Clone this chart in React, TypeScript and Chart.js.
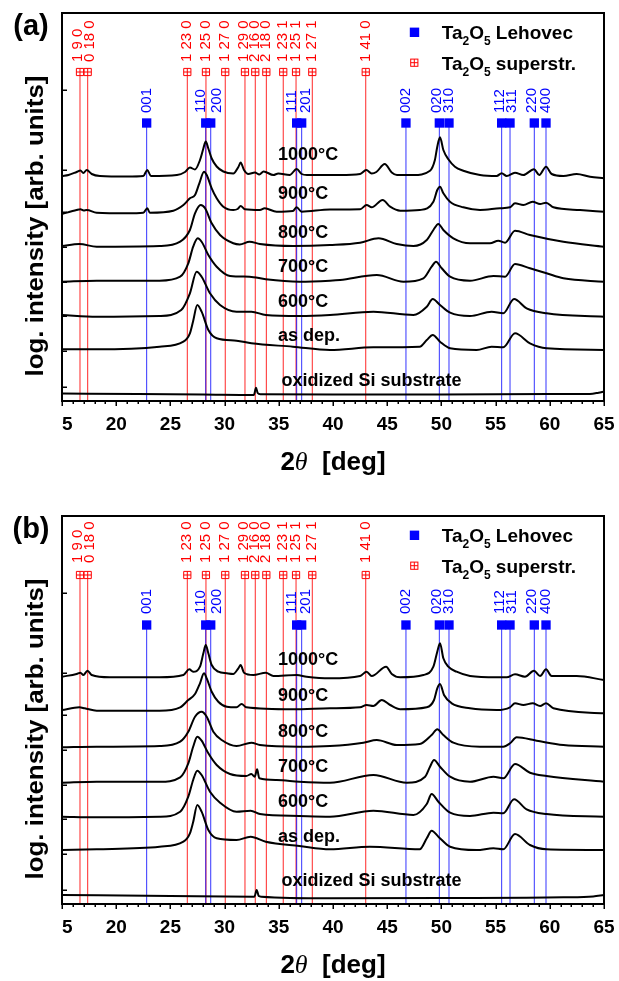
import React, { useEffect, useRef } from "react";
import { Chart, registerables } from "chart.js";
Chart.register(...registerables);

type Pt = [number, number];

// ---------- data (2θ in deg, log. intensity + stacking offset, arb. units) ----------
const A_1000: Pt[] = [[15.0,225],[15.6,226],[16.35,229],[16.7,230.5],[16.97,228],[17.28,231],[17.74,227],[18.5,225],[21.0,224.5],[22.5,225],[22.87,231],[23.2,225],[25.6,226],[26.35,229],[26.8,233.5],[27.27,231.5],[27.73,241],[28.04,252.5],[28.26,259.5],[28.5,252.5],[28.81,242.5],[29.27,234.5],[29.88,229.5],[30.8,227.5],[31.27,234],[31.48,238.5],[31.79,231],[32.19,227],[32.8,228.5],[33.2,226.5],[33.6,229.5],[34.5,226],[34.95,227.5],[36.0,226],[36.65,232],[37.11,227],[37.6,226],[40.65,226],[42.5,227],[43.07,231],[43.57,227.5],[44.0,229],[44.77,237],[45.42,228.5],[45.9,226],[47.4,226],[48.95,230.3],[49.4,241],[49.62,254.3],[49.87,263.7],[50.18,251],[50.64,241.7],[51.25,234.3],[52.02,230.3],[53.56,226],[55.1,225],[55.56,227.7],[56.02,225],[56.79,228.3],[57.56,226],[58.54,231.7],[59.03,226],[59.65,234.3],[60.17,227],[61.25,225],[62.48,227],[63.71,224.3],[65.0,222.7]];
const A_900: Pt[] = [[15.0,187],[16.35,191],[16.7,191.7],[17.0,190.5],[17.28,191],[18.2,188.3],[21.0,187.7],[22.5,188.3],[22.87,192.7],[23.1,188.3],[25.27,190.3],[26.2,196],[26.8,202.7],[27.27,206],[27.67,217.7],[28.1,229.3],[28.35,226],[28.81,212.7],[29.27,202.7],[29.88,194.3],[30.8,191],[31.2,192],[31.48,195],[31.88,191.7],[33.26,191],[33.7,192.7],[34.8,189.3],[36.3,190],[36.65,193.7],[37.1,189.3],[39.72,191.5],[42.5,191.7],[43.1,196],[43.57,193.7],[44.58,201],[45.27,194.3],[46.2,190.3],[48.0,191],[49.26,199.3],[49.62,211],[49.87,214.3],[50.18,207.7],[50.79,199.3],[52.02,193.7],[53.56,191],[55.4,192.7],[56.33,193.7],[56.79,197.7],[57.56,196],[58.42,199.3],[59.1,197],[59.65,198.3],[60.33,193.7],[62.79,191],[65.0,189.3]];
const A_800: Pt[] = [[15.0,155],[16.6,157],[18.2,154.3],[24.0,155],[25.9,159.3],[26.8,171],[27.27,187.7],[27.8,196],[28.2,192.7],[28.81,177.7],[29.58,166],[30.8,157.7],[31.4,156.5],[32.3,159.3],[33.26,157],[36.34,155],[39.72,156],[42.5,158.3],[44.2,162.7],[45.88,157],[47.42,155],[48.65,161],[49.26,171],[49.72,177],[50.18,171],[51.1,162.7],[52.64,157.7],[54.48,157.7],[55.25,160.3],[55.87,158.3],[56.79,170.3],[58.17,166],[61.25,159.3],[65.0,154.3]];
const A_700: Pt[] = [[15.0,119.3],[18.2,120.3],[24.0,120.3],[25.9,124.3],[26.65,137.7],[27.1,154.3],[27.52,162.7],[27.88,159.3],[28.5,146],[29.27,134.3],[30.5,125],[32.3,124.3],[33.8,121.7],[36.9,119.3],[39.72,120.3],[40.65,121],[44.04,126],[46.5,119.3],[48.34,122.7],[49.1,134.3],[49.5,139.3],[50.03,132.7],[50.8,124.3],[52.64,120.3],[54.8,125],[55.87,124.3],[56.79,137],[58.17,132.7],[59.7,127.7],[61.25,122.7],[65.0,119.3]];
const A_600: Pt[] = [[15.0,86],[18.2,84.3],[24.0,85],[26.0,91],[26.8,107.7],[27.42,129.3],[27.88,124.3],[28.65,107.7],[29.58,96],[31.1,89.3],[32.47,89.3],[33.8,86],[36.9,85],[39.72,86],[43.73,89.3],[47.42,86],[48.65,94.3],[49.2,102],[49.87,96],[50.8,88.3],[52.64,85],[54.63,89.3],[55.71,87.7],[56.7,102],[57.86,92.7],[59.7,87.7],[65.0,84.3]];
const A_ASDEP: Pt[] = [[15.0,51.7],[18.2,51.7],[24.0,54.3],[26.2,59.3],[26.8,67.7],[27.1,80],[27.48,96],[27.88,89.3],[28.5,71],[29.27,62.7],[31.1,60.3],[32.47,57.7],[36.3,54.3],[39.72,51],[43.73,53.7],[48.0,54.3],[48.65,61],[49.2,66],[49.87,59.3],[50.8,52.7],[53.25,51],[54.63,54.3],[55.71,53.7],[56.79,67.7],[58.17,57.7],[59.7,52.7],[65.0,51]];
const A_SI: Pt[] = [[15.0,7.5],[22.0,7],[28.0,6.5],[32.7,6],[32.9,13.3],[33.05,8],[33.3,6.8],[40.0,6.5],[50.0,6.5],[60.0,7],[63.7,7],[64.5,8.3],[65.0,9.5]];

const B_1000: Pt[] = [[15.0,227.3],[16.35,230],[16.7,231.3],[16.97,229],[17.35,233.3],[17.74,229],[19.4,226.7],[24.0,226.7],[26.2,229],[26.74,234.7],[27.1,232.3],[27.73,237.3],[28.04,250.7],[28.26,259],[28.5,250.7],[28.81,239],[29.42,232.3],[30.2,230.7],[30.8,230],[31.27,235.7],[31.48,239],[31.79,231.3],[32.65,229],[33.8,231.3],[34.5,228],[36.65,229],[37.57,227.3],[39.72,225.7],[42.5,228],[43.1,232.3],[43.57,228],[44.9,237.3],[45.42,230],[46.2,226.7],[48.34,229],[49.26,237.3],[49.62,252.3],[49.87,260.7],[50.18,245.7],[50.64,237.3],[51.4,232.3],[52.64,228],[55.1,226.7],[56.02,226.7],[56.79,229.7],[57.71,227.3],[58.54,233.3],[59.1,228],[59.65,234.7],[60.17,228],[62.48,228],[65.0,224]];
const B_900: Pt[] = [[15.0,194],[16.6,196.7],[17.1,195.7],[18.2,193.3],[24.0,193.3],[25.9,196.7],[26.65,204],[27.27,210],[27.73,220.7],[28.1,230.7],[28.35,225.7],[28.81,212.3],[29.42,202.3],[30.2,197.3],[31.1,196.7],[31.57,200],[32.0,196.7],[36.3,194.7],[39.72,195.7],[42.5,196.7],[43.1,199],[43.72,198],[44.5,204],[45.27,199],[46.2,194.7],[48.65,196.7],[49.32,204],[49.62,215.7],[49.87,220],[50.24,209],[50.95,200.7],[52.64,195.7],[55.1,194],[56.33,196.7],[56.79,200.7],[57.56,199],[58.42,200.7],[59.1,198],[59.65,200.7],[60.33,195.7],[65.0,190.7]];
const B_800: Pt[] = [[15.0,156.7],[18.2,157.3],[24.0,158],[25.9,162.3],[26.65,172.3],[27.27,187.3],[27.88,192.3],[28.35,187.3],[28.96,172.3],[29.73,164],[31.1,158],[32.47,161.3],[33.26,159],[36.9,157.3],[39.72,158],[42.8,161.3],[44.04,164],[45.88,159],[48.0,160],[49.1,169],[49.62,174.7],[50.18,169],[51.1,161.3],[53.56,157.3],[55.71,157.3],[56.33,160.7],[56.94,166.7],[58.79,163.3],[61.25,159],[65.0,157.3]];
const B_700: Pt[] = [[15.0,121.3],[18.2,122.3],[24.0,122.3],[25.9,126.7],[26.65,140.7],[27.1,157.3],[27.48,167.3],[27.88,163.3],[28.5,150.7],[29.27,139],[30.5,130],[32.0,128],[32.47,130],[32.78,127.3],[33.0,134.7],[33.2,125.7],[34.8,124],[36.9,122.3],[39.72,121.3],[43.73,129],[46.8,121.3],[48.5,127.3],[48.95,137.3],[49.32,144],[49.87,137.3],[50.8,127.3],[52.64,122.3],[54.8,127.3],[55.71,125.7],[56.79,140],[58.17,131.3],[59.7,128],[65.0,122.3]];
const B_600: Pt[] = [[15.0,87.3],[18.2,86.7],[24.0,87.3],[25.9,92.3],[26.65,107.3],[27.1,124],[27.48,133.3],[27.88,129],[28.65,112.3],[29.58,101.3],[31.1,92.3],[32.4,93.3],[33.26,90],[36.9,88],[39.72,87.3],[43.73,93.3],[47.42,89],[48.65,100],[49.1,110],[49.72,102.3],[50.8,91.3],[52.64,88],[54.8,91.3],[55.71,90.7],[56.7,104.7],[57.86,94.7],[59.7,90],[65.0,87.3]];
const B_ASDEP: Pt[] = [[15.0,54],[18.2,54.7],[24.0,57.3],[26.2,62.3],[26.8,70.7],[27.1,82],[27.48,99],[27.88,92.3],[28.5,74],[29.27,65.7],[31.1,64],[32.4,67.3],[33.8,62.3],[36.9,58],[39.72,54.7],[43.4,57.3],[48.0,54.7],[48.65,65.7],[49.1,73.3],[49.72,67.3],[50.8,57.3],[53.25,54],[54.8,55.7],[55.71,54.7],[56.79,70],[58.17,59],[59.7,54.7],[65.0,54]];
const B_SI: Pt[] = [[15.0,9],[25.0,8],[32.75,7.3],[32.96,14],[33.15,8],[33.4,7.3],[39.72,5.7],[50.0,6],[61.25,6.7],[64.0,7.5],[65.0,9]];

const SERIES_NAMES = ["1000°C", "900°C", "800°C", "700°C", "600°C", "as dep.", "oxidized Si substrate"];

// Ta2O5 superstructure reflections
const RED_POS = [16.66, 17.37, 26.56, 28.28, 30.06, 31.88, 32.83, 33.85, 35.41, 36.59, 38.09, 43.02];
const RED_LABELS = ["1 9 0", "0 18 0", "1 23 0", "1 25 0", "1 27 0", "1 29 0", "2 16 0", "2 18 0", "1 23 1", "1 25 1", "1 27 1", "1 41 0"];
// Ta2O5 Lehovec reflections
const BLUE_POS = [22.81, 28.26, 28.72, 36.65, 37.11, 46.73, 49.81, 50.7, 55.56, 56.33, 58.57, 59.65];
const BLUE_LABELS = ["001", "110", "200", "111", "201", "002", "020", "310", "112", "311", "220", "400"];

const X_MIN = 15;
const X_MAX = 65;
const X_MAJOR = [15, 20, 25, 30, 35, 40, 45, 50, 55, 60, 65];
const Y_TICKS = [14, 50, 85, 119, 154, 189, 231, 311];

// ---------- layout (pixels / styles) ----------
const RED_LABEL_DX = [-2.5, 2.5, 0, 0, 0, -1, 0, 0, 0, 0, 0, 0];
const BLUE_LABEL_DX = [0, -4.5, 6, -5, 4.5, 0, -2.5, 0, -2, 2, -2, 0];
const FONT = "'Liberation Sans', Arial, Helvetica, sans-serif";

type PanelCfg = {
  letter: string;
  series: Pt[][];
  labelV: number[];
  canvasTop: number;
  canvasH: number;
  top: number;
  bottom: number;
  redMarkV: number;
  blueMarkV: number;
  redTextV: number;
  blueTextV: number;
};

const PANEL_A: PanelCfg = {
  letter: "(a)",
  series: [A_1000, A_900, A_800, A_700, A_600, A_ASDEP, A_SI],
  labelV: [246, 207, 168.3, 133.7, 99.3, 65, 20.3],
  canvasTop: 0, canvasH: 490, top: 13, bottom: 401,
  redMarkV: 329, blueMarkV: 278, redTextV: 339, blueTextV: 288,
};
const PANEL_B: PanelCfg = {
  letter: "(b)",
  series: [B_1000, B_900, B_800, B_700, B_600, B_ASDEP, B_SI],
  labelV: [244, 208, 172.3, 137.3, 102.3, 67.3, 23.3],
  canvasTop: 490, canvasH: 491, top: 26, bottom: 414,
  redMarkV: 329, blueMarkV: 279, redTextV: 341, blueTextV: 290,
};

function drawFormula(ctx: CanvasRenderingContext2D, x: number, y: number, rest: string) {
  const big = `bold 19px ${FONT}`;
  const small = `bold 12px ${FONT}`;
  const parts: [string, string, number][] = [["Ta", big, 0], ["2", small, 6], ["O", big, 0], ["5", small, 6], [rest, big, 0]];
  let cx = x;
  ctx.textAlign = "left";
  ctx.textBaseline = "alphabetic";
  for (const [t, f, dy] of parts) {
    ctx.font = f;
    ctx.fillText(t, cx, y + dy);
    cx += ctx.measureText(t).width;
  }
}

function makeDecor(cfg: PanelCfg) {
  return {
    id: "decor",
    afterDraw(chart: any) {
      const ctx: CanvasRenderingContext2D = chart.ctx;
      const xs = chart.scales.x;
      const ys = chart.scales.y;
      const { left, right, top, bottom } = chart.chartArea;
      ctx.save();

      // reference labels (rotated)
      ctx.font = `15px ${FONT}`;
      ctx.textAlign = "left";
      ctx.textBaseline = "middle";
      RED_POS.forEach((p, i) => {
        ctx.save();
        ctx.fillStyle = "#ff0000";
        ctx.translate(xs.getPixelForValue(p) + RED_LABEL_DX[i], ys.getPixelForValue(cfg.redTextV));
        ctx.rotate(-Math.PI / 2);
        ctx.fillText(RED_LABELS[i], 0, 0);
        ctx.restore();
      });
      BLUE_POS.forEach((p, i) => {
        ctx.save();
        ctx.fillStyle = "#0000ff";
        ctx.translate(xs.getPixelForValue(p) + BLUE_LABEL_DX[i], ys.getPixelForValue(cfg.blueTextV));
        ctx.rotate(-Math.PI / 2);
        ctx.fillText(BLUE_LABELS[i], 0, 0);
        ctx.restore();
      });

      // curve labels
      ctx.fillStyle = "#000";
      ctx.font = `bold 18px ${FONT}`;
      ctx.textBaseline = "middle";
      SERIES_NAMES.forEach((n, i) => {
        const lx = i === SERIES_NAMES.length - 1 ? 35.25 : 34.93;
        ctx.fillText(n, xs.getPixelForValue(lx), ys.getPixelForValue(cfg.labelV[i]));
      });

      // frame
      ctx.strokeStyle = "#000";
      ctx.lineWidth = 2;
      ctx.strokeRect(left, top, right - left, bottom - top);

      // x ticks
      ctx.lineWidth = 1.5;
      ctx.beginPath();
      for (let v = X_MIN; v <= X_MAX; v++) {
        const px = Math.round(xs.getPixelForValue(v)) + 0.25;
        const len = v % 5 === 0 ? 5 : 3;
        ctx.moveTo(px, bottom);
        ctx.lineTo(px, bottom + len);
      }
      // y ticks (inward)
      Y_TICKS.forEach((v) => {
        const py = Math.round(ys.getPixelForValue(v)) + 0.25;
        ctx.moveTo(left, py);
        ctx.lineTo(left + 5, py);
      });
      ctx.stroke();

      // x tick labels (clipped at the left axis)
      ctx.save();
      ctx.beginPath();
      ctx.rect(left, 0, chart.width - left, chart.height);
      ctx.clip();
      ctx.font = `bold 19px ${FONT}`;
      ctx.textAlign = "center";
      ctx.textBaseline = "middle";
      X_MAJOR.forEach((v) => ctx.fillText(String(v), xs.getPixelForValue(v), bottom + 24));
      ctx.restore();

      // x title: 2θ [deg]
      {
        const f1 = `bold 26px ${FONT}`;
        const f2 = `italic 26px 'Liberation Serif', 'DejaVu Serif', serif`;
        const parts: [string, string][] = [["2", f1], ["θ", f2], ["  [deg]", f1]];
        let w = 0;
        parts.forEach(([t, f]) => { ctx.font = f; w += ctx.measureText(t).width; });
        let cx = (left + right) / 2 - w / 2;
        ctx.textAlign = "left";
        ctx.textBaseline = "middle";
        parts.forEach(([t, f]) => { ctx.font = f; ctx.fillText(t, cx, bottom + 62); cx += ctx.measureText(t).width; });
      }

      // y title
      {
        const t = "log. intensity [arb. units]";
        ctx.font = `bold 23px ${FONT}`;
        const w = ctx.measureText(t).width;
        ctx.save();
        ctx.translate(37, (top + bottom) / 2 + 19);
        ctx.rotate(-Math.PI / 2);
        ctx.scale(301 / w, 1);
        ctx.textAlign = "center";
        ctx.textBaseline = "middle";
        ctx.fillText(t, 0, 0);
        ctx.restore();
      }

      // panel letter
      ctx.font = `bold 29px ${FONT}`;
      ctx.textAlign = "center";
      ctx.textBaseline = "middle";
      ctx.fillText(cfg.letter, 31, top + 14);

      // legend
      ctx.fillStyle = "#0000ff";
      ctx.fillRect(414.5 - 4.7, top + 19.3 - 4.7, 9.4, 9.4);
      ctx.strokeStyle = "#ff0000";
      ctx.lineWidth = 1;
      const rx = 414.3, ry = top + 49.7, h = 3.6;
      ctx.strokeRect(rx - h, ry - h, 2 * h, 2 * h);
      ctx.beginPath();
      ctx.moveTo(rx - h, ry); ctx.lineTo(rx + h, ry);
      ctx.moveTo(rx, ry - h); ctx.lineTo(rx, ry + h);
      ctx.stroke();
      ctx.fillStyle = "#000";
      drawFormula(ctx, 441.7, top + 26, " Lehovec");
      drawFormula(ctx, 441.7, top + 56.5, " superstr.");

      ctx.restore();
    },
  };
}

function Panel({ cfg }: { cfg: PanelCfg }) {
  const ref = useRef<HTMLCanvasElement>(null);
  useEffect(() => {
    const canvas = ref.current!;
    const datasets: any[] = [];
    cfg.series.forEach((s) => {
      datasets.push({
        data: s.map(([x, y]) => ({ x, y })),
        borderColor: "#000",
        borderWidth: 2,
        pointRadius: 0,
        cubicInterpolationMode: "monotone",
        fill: false,
        order: 2,
      });
    });
    const redLines: any[] = [];
    RED_POS.forEach((p) => { redLines.push({ x: p, y: 0 }, { x: p, y: cfg.redMarkV }, { x: p, y: null }); });
    const blueLines: any[] = [];
    BLUE_POS.forEach((p) => { blueLines.push({ x: p, y: 0 }, { x: p, y: cfg.blueMarkV }, { x: p, y: null }); });
    datasets.push({ data: redLines, borderColor: "rgba(255,0,0,0.85)", borderWidth: 1, pointRadius: 0, tension: 0, spanGaps: false, order: 4 });
    datasets.push({ data: blueLines, borderColor: "rgba(0,0,255,0.8)", borderWidth: 1, pointRadius: 0, tension: 0, spanGaps: false, order: 3 });
    // markers
    datasets.push({
      data: BLUE_POS.map((p) => ({ x: p, y: cfg.blueMarkV })),
      showLine: false, pointStyle: "rect", pointRadius: 6.6, backgroundColor: "#0000ff", borderColor: "#0000ff", borderWidth: 0, order: 0,
    });
    datasets.push({
      data: RED_POS.map((p) => ({ x: p, y: cfg.redMarkV })),
      showLine: false, pointStyle: "cross", pointRadius: 3.6, borderColor: "#ff0000", borderWidth: 1, order: 0,
    });
    datasets.push({
      data: RED_POS.map((p) => ({ x: p, y: cfg.redMarkV })),
      showLine: false, pointStyle: "rect", pointRadius: 5.1, backgroundColor: "#ffffff", borderColor: "#ff0000", borderWidth: 1, order: 1,
    });

    const chart = new Chart(canvas, {
      type: "line",
      data: { datasets },
      options: {
        animation: false,
        responsive: false,
        devicePixelRatio: 1,
        events: [],
        layout: { padding: { left: 62, right: 15, top: cfg.top, bottom: cfg.canvasH - cfg.bottom } },
        scales: {
          x: { type: "linear", min: X_MIN, max: X_MAX, display: false },
          y: { type: "linear", min: 0, max: cfg.bottom - cfg.top, display: false },
        },
        plugins: { legend: { display: false }, tooltip: { enabled: false } },
      },
      plugins: [makeDecor(cfg)],
    } as any);
    return () => chart.destroy();
  }, [cfg]);
  return (
    <canvas
      ref={ref}
      width={619}
      height={cfg.canvasH}
      style={{ position: "absolute", left: 0, top: cfg.canvasTop, width: 619, height: cfg.canvasH, display: "block" }}
    />
  );
}

export default function App() {
  useEffect(() => {
    document.body.style.margin = "0";
  }, []);
  return (
    <div style={{ position: "absolute", left: 0, top: 0, width: 619, height: 981, background: "#fff" }}>
      <Panel cfg={PANEL_A} />
      <Panel cfg={PANEL_B} />
    </div>
  );
}
